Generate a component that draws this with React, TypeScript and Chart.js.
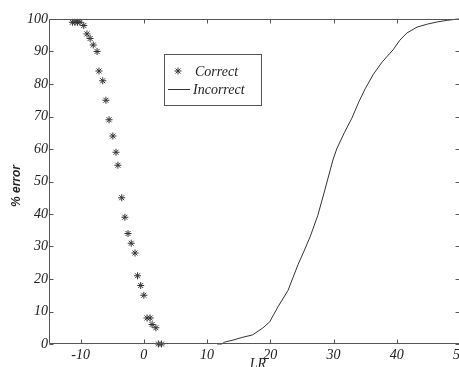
import React, { useEffect, useRef } from "react";
import { Chart, registerables } from "chart.js";

Chart.register(...registerables);

const correctX = [-11.3, -10.9, -10.5, -10.1, -9.5, -9, -8.5, -8, -7.4, -7.1, -6.5, -6, -5.5, -4.9, -4.4, -4.1, -3.5, -3, -2.5, -2, -1.4, -1, -0.5, 0, 0.5, 1, 1.3, 1.9, 2.3, 2.8];
const correctY = [99, 99, 99, 99, 98, 95.4, 94, 92, 90, 84, 81, 75, 69, 64, 59, 55, 45, 39, 34, 31, 28, 21, 18, 15, 8, 8, 6, 5, 0, 0];

const incorrectX = [11.6, 12.3, 12.8, 14.1, 15.5, 17.2, 18.8, 19.9, 21.2, 22.8, 23.6, 24.4, 25.2, 26.3, 27.5, 28.5, 29.9, 30.5, 31.7, 32.9, 34, 35, 36.3, 37.7, 39.4, 40.5, 41.6, 43.2, 44.8, 46.4, 48, 49.7, 50];
const incorrectY = [0, 0, 0.6, 1.2, 2, 2.8, 4.9, 6.8, 11.4, 16.5, 20.5, 24.5, 28, 33, 39.5, 46.5, 56.6, 60, 65, 69.5, 74.5, 78.5, 83, 86.8, 90.5, 93.5, 95.7, 97.5, 98.4, 99.1, 99.6, 100, 100];

const xTicks = [-10, 0, 10, 20, 30, 40, 50];
const yTicks = [0, 10, 20, 30, 40, 50, 60, 70, 80, 90, 100];
const seriesLabels = ["Correct", "Incorrect"];
const xTitle = "LR";
const yTitle = "% error";

const INK = "#222";
const AXIS = "#555";
const SERIF = "'Liberation Serif', 'DejaVu Serif', serif";

const framePlugin = {
  id: "frame",
  afterDraw(chart: any) {
    const { ctx, chartArea } = chart;
    const { left, top, right, bottom } = chartArea;
    const xs = chart.scales.x;
    const ys = chart.scales.y;
    ctx.save();
    ctx.strokeStyle = AXIS;
    ctx.lineWidth = 1;
    const L = Math.round(left) + 0.5;
    const R = Math.round(right) - 0.5;
    const T = Math.round(top) + 0.5;
    const B = Math.round(bottom) - 0.5;
    ctx.beginPath();
    ctx.rect(L, T, R - L, B - T);
    ctx.stroke();
    ctx.beginPath();
    xTicks.forEach((v) => {
      const p = Math.round(xs.getPixelForValue(v)) + 0.5;
      ctx.moveTo(p, B);
      ctx.lineTo(p, B - 4);
      ctx.moveTo(p, T);
      ctx.lineTo(p, T + 4);
    });
    yTicks.forEach((v) => {
      const p = Math.round(ys.getPixelForValue(v)) + 0.5;
      ctx.moveTo(L, p);
      ctx.lineTo(L + 4, p);
      ctx.moveTo(R, p);
      ctx.lineTo(R - 4, p);
    });
    ctx.stroke();

    // axis titles
    ctx.fillStyle = INK;
    ctx.font = `italic 14px ${SERIF}`;
    ctx.textAlign = "center";
    ctx.textBaseline = "middle";
    ctx.fillText(xTitle, 258, 364);
    ctx.save();
    ctx.translate(17, 186);
    ctx.rotate(-Math.PI / 2);
    ctx.font = "italic bold 12px 'Liberation Sans', Arial, sans-serif";
    ctx.fillText(yTitle, 0, 0);
    ctx.restore();

    // legend
    const bx = 164.5, by = 54.5, bw = 97, bh = 51;
    ctx.fillStyle = "#fff";
    ctx.fillRect(bx, by, bw, bh);
    ctx.strokeStyle = AXIS;
    ctx.strokeRect(bx, by, bw, bh);
    const ds = chart.data.datasets;
    ctx.font = `italic 14px ${SERIF}`;
    ctx.textAlign = "left";
    ctx.fillStyle = INK;
    const r1 = 71, r2 = 89;
    ctx.strokeStyle = ds[0].borderColor;
    ctx.lineWidth = 1;
    const cx = 178, rr = 3.5;
    ctx.beginPath();
    for (let i = 0; i < 4; i++) {
      const a = (i * Math.PI) / 4;
      ctx.moveTo(cx - rr * Math.cos(a), r1 - rr * Math.sin(a));
      ctx.lineTo(cx + rr * Math.cos(a), r1 + rr * Math.sin(a));
    }
    ctx.stroke();
    ctx.fillText(ds[0].label, 195, r1 + 1);
    ctx.strokeStyle = ds[1].borderColor;
    ctx.beginPath();
    ctx.moveTo(168, r2 + 0.5);
    ctx.lineTo(190, r2 + 0.5);
    ctx.stroke();
    ctx.fillText(ds[1].label, 193, r2 + 1);
    ctx.restore();
  },
};

export default function App() {
  const ref = useRef<HTMLCanvasElement | null>(null);
  useEffect(() => {
    if (!ref.current) return;
    const chart = new Chart(ref.current, {
      type: "scatter",
      data: {
        datasets: [
          {
            label: seriesLabels[0],
            data: correctX.map((x, i) => ({ x, y: correctY[i] })),
            pointStyle: "star",
            pointRadius: 3.5,
            borderColor: "#333",
            backgroundColor: "#333",
            borderWidth: 1,
            showLine: false,
          },
          {
            label: seriesLabels[1],
            data: incorrectX.map((x, i) => ({ x, y: incorrectY[i] })),
            pointRadius: 0,
            borderColor: "#333",
            backgroundColor: "#333",
            borderWidth: 1,
            showLine: true,
            tension: 0,
          },
        ],
      },
      options: {
        animation: false,
        responsive: false,
        devicePixelRatio: 1,
        clip: false as any,
        layout: { padding: { top: 19, right: 10, left: 0, bottom: 0 }, autoPadding: false } as any,
        plugins: { legend: { display: false }, tooltip: { enabled: false } },
        scales: {
          x: {
            type: "linear",
            min: -15,
            max: 50,
            afterBuildTicks: (s: any) => {
              s.ticks = xTicks.map((value) => ({ value }));
            },
            afterFit: (s: any) => {
              s.height = 23;
            },
            grid: { display: false, drawTicks: false },
            border: { display: false },
            ticks: {
              padding: 3,
              maxRotation: 0,
              autoSkip: false,
              color: INK,
              font: { family: SERIF, style: "italic", size: 14 },
            },
          },
          y: {
            type: "linear",
            min: 0,
            max: 100,
            afterBuildTicks: (s: any) => {
              s.ticks = yTicks.map((value) => ({ value }));
            },
            afterFit: (s: any) => {
              s.width = 49;
            },
            grid: { display: false, drawTicks: false },
            border: { display: false },
            ticks: {
              padding: 1,
              autoSkip: false,
              color: INK,
              font: { family: SERIF, style: "italic", size: 14 },
            },
          },
        },
      },
      plugins: [framePlugin],
    });
    return () => chart.destroy();
  }, []);
  return (
    <div style={{ position: "fixed", left: 0, top: 0, width: 470, height: 367, background: "#fff" }}>
      <canvas ref={ref} width={470} height={367} style={{ display: "block" }} />
    </div>
  );
}
